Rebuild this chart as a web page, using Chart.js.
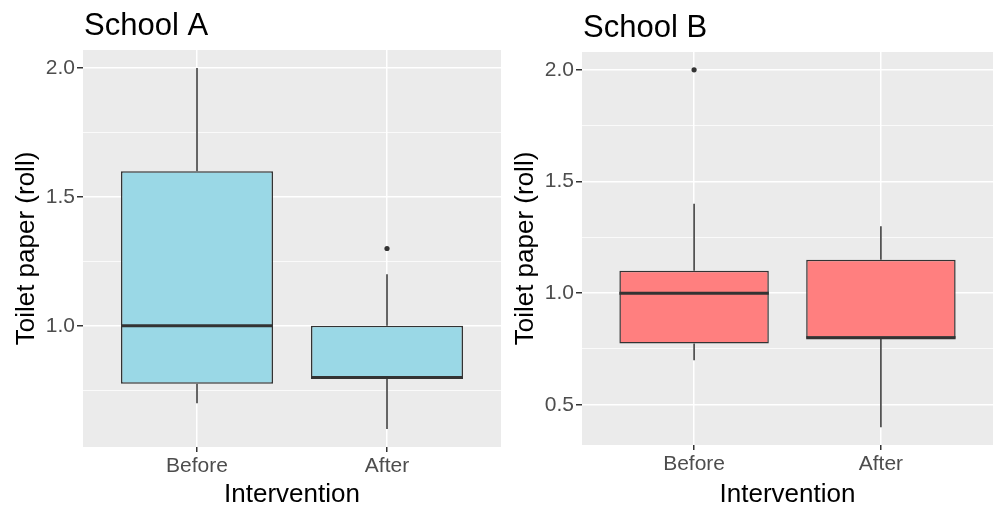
<!DOCTYPE html>
<html>
<head>
<meta charset="utf-8">
<script src="https://cdn.jsdelivr.net/npm/chart.js@4"></script>
<style>
  html, body { margin: 0; padding: 0; background: #ffffff; }
  body { width: 993px; height: 506px; position: relative; overflow: hidden; }
  canvas { position: absolute; top: 0; }
  #schoolA { left: 0; }
  #schoolB { left: 501px; }
</style>
</head>
<body>
<canvas id="schoolA" width="501" height="506"></canvas>
<canvas id="schoolB" width="492" height="506"></canvas>
<script>
// categories on the discrete x axis
const categories = ['Before', 'After'];

// School A box stats
const schoolALower = [0.7, 0.6];
const schoolAQ1 = [0.775, 0.8];
const schoolAMedian = [1.0, 0.8];
const schoolAQ3 = [1.6, 1.0];
const schoolAUpper = [2.0, 1.2];
const schoolAOutliers = [[], [1.3]];

// School B box stats
const schoolBLower = [0.7, 0.4];
const schoolBQ1 = [0.775, 0.8];
const schoolBMedian = [1.0, 0.8];
const schoolBQ3 = [1.1, 1.15];
const schoolBUpper = [1.4, 1.3];
const schoolBOutliers = [[2.0], []];

// y axis: limits, labelled ticks and all grid lines
const schoolAYRange = [0.53, 2.07];
const schoolAYTicks = [1.0, 1.5, 2.0];
const schoolAYGrid = [0.75, 1.0, 1.25, 1.5, 1.75, 2.0];
const schoolBYRange = [0.32, 2.08];
const schoolBYTicks = [0.5, 1.0, 1.5, 2.0];
const schoolBYGrid = [0.5, 0.75, 1.0, 1.25, 1.5, 1.75, 2.0];

const xRange = [0.4, 2.6];
const BOX_HALF = 0.4;

const FONT = "'Liberation Sans', Arial, sans-serif";
const INK = '#333333';

const ggPanel = {
  id: 'ggPanel',
  beforeDraw(chart, args, opts) {
    const { ctx, chartArea } = chart;
    ctx.save();
    ctx.fillStyle = '#EBEBEB';
    ctx.fillRect(chartArea.left, chartArea.top, chartArea.right - chartArea.left, chartArea.bottom - chartArea.top);
    ctx.restore();
  },
  afterDraw(chart, args, opts) {
    const { ctx, chartArea } = chart;
    ctx.save();
    ctx.fillStyle = '#000000';
    ctx.font = '31px ' + FONT;
    ctx.textAlign = 'left';
    ctx.textBaseline = 'alphabetic';
    ctx.fillText(opts.text, chartArea.left + 1, chartArea.top - 15);
    ctx.restore();
  },
};

function buildDatasets(lower, q1, median, q3, upper, outliers, fill) {
  const datasets = [];
  categories.forEach((name, i) => {
    const x = i + 1;
    datasets.push({
      type: 'line',
      data: [{ x, y: q3[i] }, { x, y: upper[i] }],
      borderColor: INK,
      borderWidth: 1.5,
      pointRadius: 0,
      order: 3,
    });
    datasets.push({
      type: 'line',
      data: [{ x, y: lower[i] }, { x, y: q1[i] }],
      borderColor: INK,
      borderWidth: 1.5,
      pointRadius: 0,
      order: 3,
    });
    datasets.push({
      type: 'line',
      data: [{ x: x - BOX_HALF, y: median[i] }, { x: x + BOX_HALF, y: median[i] }],
      borderColor: INK,
      borderWidth: 3,
      pointRadius: 0,
      order: 1,
    });
  });
  datasets.push({
    type: 'bar',
    data: categories.map((name, i) => ({ x: i + 1, y: [q1[i], q3[i]] })),
    backgroundColor: fill,
    borderColor: INK,
    borderWidth: 1.5,
    borderSkipped: false,
    categoryPercentage: 1,
    barPercentage: 0.8,
    order: 2,
  });
  const points = [];
  outliers.forEach((list, i) => list.forEach((v) => points.push({ x: i + 1, y: v })));
  datasets.push({
    type: 'scatter',
    data: points,
    backgroundColor: INK,
    borderColor: INK,
    pointRadius: 2.6,
    borderWidth: 0,
    order: 0,
  });
  return datasets;
}

function makePanel(canvasId, opts) {
  const canvas = document.getElementById(canvasId);
  const ctx = canvas.getContext('2d');
  return new Chart(ctx, {
    type: 'bar',
    data: { datasets: buildDatasets(opts.lower, opts.q1, opts.median, opts.q3, opts.upper, opts.outliers, opts.fill) },
    plugins: [ggPanel],
    options: {
      responsive: false,
      animation: false,
      events: [],
      layout: { autoPadding: false, padding: { top: opts.top, left: 0, right: 0, bottom: 0 } },
      plugins: {
        legend: { display: false },
        tooltip: { enabled: false },
        title: { display: false },
        ggPanel: { text: opts.title },
      },
      scales: {
        x: {
          type: 'linear',
          min: xRange[0],
          max: xRange[1],
          offset: false,
          afterBuildTicks(axis) {
            axis.ticks = categories.map((name, i) => ({ value: i + 1 }));
          },
          afterFit(axis) {
            axis.height = opts.xHeight;
            axis.paddingLeft = 0;
            axis.paddingRight = 0;
          },
          border: { display: false },
          grid: {
            offset: false,
            color: '#FFFFFF',
            lineWidth: 1.5,
            tickLength: 5,
            tickColor: INK,
            tickWidth: 1.5,
          },
          ticks: {
            autoSkip: false,
            maxRotation: 0,
            padding: 2,
            color: '#4D4D4D',
            font: { family: FONT, size: 21 },
            callback(value) {
              return categories[value - 1] || '';
            },
          },
          title: {
            display: true,
            text: 'Intervention',
            color: '#000000',
            font: { family: FONT, size: 26, lineHeight: 0.85 },
            padding: { top: 0, bottom: 0 },
          },
        },
        y: {
          type: 'linear',
          min: opts.yRange[0],
          max: opts.yRange[1],
          afterBuildTicks(axis) {
            axis.ticks = opts.yGrid.map((value) => ({ value }));
          },
          afterFit(axis) {
            axis.width = opts.yWidth;
            axis.paddingTop = 0;
            axis.paddingBottom = 0;
          },
          border: { display: false },
          grid: {
            color: '#FFFFFF',
            lineWidth: (c) => (opts.yTicks.includes(c.tick.value) ? 1.5 : 0.75),
            tickLength: 6,
            tickColor: (c) => (opts.yTicks.includes(c.tick.value) ? INK : 'rgba(0,0,0,0)'),
            tickWidth: 1.5,
          },
          ticks: {
            autoSkip: false,
            padding: 2,
            color: '#4D4D4D',
            font: { family: FONT, size: 21 },
            callback(value) {
              return opts.yTicks.includes(value) ? value.toFixed(1) : '';
            },
          },
          title: {
            display: true,
            text: 'Toilet paper (roll)',
            color: '#000000',
            font: { family: FONT, size: 26, lineHeight: 1 },
            padding: { top: opts.yTitlePad, bottom: 0 },
          },
        },
      },
    },
  });
}

makePanel('schoolA', {
  title: 'School A',
  lower: schoolALower, q1: schoolAQ1, median: schoolAMedian, q3: schoolAQ3, upper: schoolAUpper, outliers: schoolAOutliers,
  fill: '#9AD8E6',
  yRange: schoolAYRange, yTicks: schoolAYTicks, yGrid: schoolAYGrid,
  top: 50, xHeight: 59, yWidth: 83, yTitlePad: 14,
});

makePanel('schoolB', {
  title: 'School B',
  lower: schoolBLower, q1: schoolBQ1, median: schoolBMedian, q3: schoolBQ3, upper: schoolBUpper, outliers: schoolBOutliers,
  fill: '#FF7F7F',
  yRange: schoolBYRange, yTicks: schoolBYTicks, yGrid: schoolBYGrid,
  top: 52, xHeight: 61, yWidth: 81, yTitlePad: 12,
});
</script>
</body>
</html>
